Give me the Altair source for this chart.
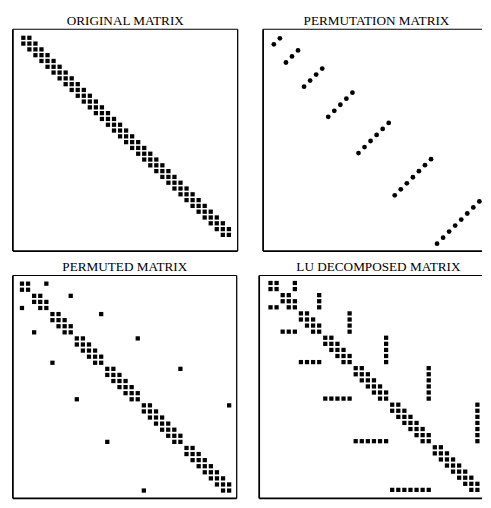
import altair as alt
import numpy as np
import pandas as pd

# ---- data ----
N = 35                                   # matrix order
band_offsets = [-1, 0, 1]                # tridiagonal original matrix
# permuted position -> original index (groups of 2,3,4,5,6,7,8, each reversed)
perm = [2, 1,
        5, 4, 3,
        9, 8, 7, 6,
        14, 13, 12, 11, 10,
        20, 19, 18, 17, 16, 15,
        27, 26, 25, 24, 23, 22, 21,
        35, 34, 33, 32, 31, 30, 29, 28]
titles = ["ORIGINAL MATRIX", "PERMUTATION MATRIX", "PERMUTED MATRIX", "LU DECOMPOSED MATRIX"]

# ---- build the sparsity patterns ----
A = np.zeros((N, N), dtype=bool)
for i in range(N):
    for d in band_offsets:
        j = i + d
        if 0 <= j < N:
            A[i, j] = True

P = np.zeros((N, N), dtype=bool)
for r, c in enumerate(perm):
    P[r, c - 1] = True

idx = np.array(perm) - 1
B = A[np.ix_(idx, idx)]

LU = B.copy()
for k in range(N):
    rows = [i for i in range(k + 1, N) if LU[i, k]]
    cols = [j for j in range(k + 1, N) if LU[k, j]]
    for i in rows:
        for j in cols:
            LU[i, j] = True


def entries(M):
    r, c = np.nonzero(M)
    return pd.DataFrame({"row": r + 1, "col": c + 1})


one = pd.DataFrame({"a": [0]})


def panel(M, title, w, h, xdom, ydom, shape, size, cut_right=False, dx=0):
    pts = alt.Chart(entries(M)).mark_point(
        shape=shape, filled=True, size=size, color="black", opacity=1
    ).encode(
        x=alt.X("col:Q", scale=alt.Scale(domain=xdom, nice=False, zero=False), axis=None),
        y=alt.Y("row:Q", scale=alt.Scale(domain=ydom, reverse=True, nice=False, zero=False), axis=None),
    )
    left = alt.Chart(one).mark_rule(color="black", strokeWidth=1.8).encode(
        x=alt.value(0), y=alt.value(0), y2=alt.value(h))
    bottom = alt.Chart(one).mark_rule(color="black", strokeWidth=1.8).encode(
        x=alt.value(0), x2=alt.value(w), y=alt.value(h))
    top = alt.Chart(one).mark_rule(color="black", strokeWidth=1.1).encode(
        x=alt.value(0), x2=alt.value(w), y=alt.value(0))
    layers = [left, bottom, top]
    if not cut_right:
        right = alt.Chart(one).mark_rule(color="black", strokeWidth=1.3).encode(
            x=alt.value(w), y=alt.value(0), y2=alt.value(h))
        layers.append(right)
    return alt.layer(pts, *layers).properties(
        width=w, height=h,
        title=alt.TitleParams(title, font="Liberation Serif", fontSize=13.5, fontWeight="normal",
                              color="black", offset=1, dx=dx),
    )


p1 = panel(A, titles[0], 230, 227, [-0.73, 36.46], [-0.47, 37.8], "square", 19)
p2 = panel(P, titles[1], 224, 227, [-0.78, 35.44], [-0.5, 36.23], "circle", 24, cut_right=True, dx=4)
p3 = panel(B, titles[2], 229, 228, [-0.49, 36.24], [-0.33, 36.29], "square", 19)
p4 = panel(LU, titles[3], 228, 228, [-0.86, 35.76], [-0.22, 36.4], "square", 19, cut_right=True, dx=8)

chart = alt.vconcat(
    alt.hconcat(p1, p2, spacing=24),
    alt.hconcat(p3, p4, spacing=21),
    spacing=8,
).properties(
    padding={"left": 4, "top": 0, "right": 0, "bottom": 0},
    background="white",
).configure_view(strokeWidth=0)

chart.save("out.html", embed_options={"renderer": "svg", "actions": False})
